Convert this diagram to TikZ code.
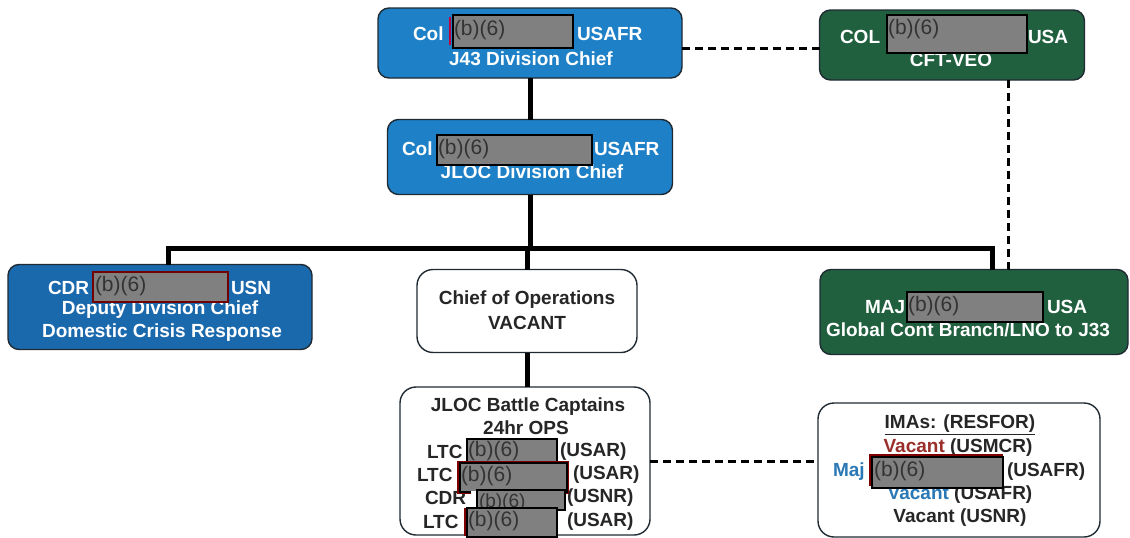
\documentclass[tikz,border=0pt]{standalone}
\usepackage{fontspec}
\setmainfont{Liberation Sans}
\definecolor{jblue}{HTML}{1E80C6}
\definecolor{dblue}{HTML}{1B69AD}
\definecolor{jgreen}{HTML}{21603F}
\definecolor{rgray}{HTML}{808080}
\definecolor{vred}{HTML}{9A2E2A}
\definecolor{vblue}{HTML}{2A78B5}
\definecolor{edge}{HTML}{1F2A33}
\begin{document}
\begin{tikzpicture}[x=1pt,y=-1pt,
  every node/.style={inner sep=0pt, outer sep=0pt},
  orgbox/.style={rectangle, rounded corners=11pt, draw=edge, line width=1.4pt},
  bluebox/.style={orgbox, fill=jblue},
  darkbox/.style={orgbox, fill=dblue},
  greenbox/.style={orgbox, fill=jgreen},
  whitebox/.style={orgbox, rounded corners=16pt, fill=white},
  wt/.style={font=\fontsize{19}{22}\selectfont\bfseries, text=white},
  bt/.style={font=\fontsize{19}{22}\selectfont\bfseries, text=black!85},
  redact/.style={rectangle, draw=black, line width=1.6pt, fill=rgray, anchor=north west},
  rtext/.style={font=\fontsize{21}{21}\selectfont, text=black!80, anchor=north west},
  trunk/.style={line width=5pt, black},
  dashline/.style={line width=3pt, black, dash pattern=on 8pt off 5pt}]
\useasboundingbox (0,0) rectangle (1130,538);

% ---------- boxes ----------
\node[bluebox, minimum width=304pt, minimum height=70pt] (j43) at (530,43) {};
\node[greenbox, minimum width=265pt, minimum height=70pt] (cft) at (952,45) {};
\node[bluebox, minimum width=285pt, minimum height=75pt] (jdc) at (530,157) {};
\node[darkbox, minimum width=304pt, minimum height=85pt] (cdr) at (160,307) {};
\node[whitebox, minimum width=220pt, minimum height=83pt] (coo) at (527,311) {};
\node[greenbox, minimum width=308pt, minimum height=85pt] (maj) at (974,312) {};
\node[whitebox, minimum width=250pt, minimum height=148pt] (bc) at (525,461) {};
\node[whitebox, minimum width=282pt, minimum height=134pt] (ima) at (959,470) {};

% ---------- connectors ----------
\coordinate (hl) at (168,248);
\coordinate (hr) at (992,248);
\coordinate (hm) at (528,248);
\coordinate (vd) at (1008,0);
\coordinate (dy) at (0,48);
\draw[trunk] (j43.south) -- (jdc.north);
\draw[trunk] (jdc.south) -- (jdc.south |- hm);
\draw[trunk] (hl |- cdr.north) -- (hl) -- (hr) -- (hr |- maj.north);
\draw[trunk] (coo.north) -- (coo.north |- hm);
\draw[trunk] (coo.south) -- (coo.south |- bc.north);
\draw[dashline] (j43.east |- dy) -- (cft.west |- dy);
\draw[dashline] (vd |- cft.south) -- (vd |- maj.north);
\draw[dashline] (bc.east) -- (bc.east -| ima.west);

% ---------- J43 ----------
\node[wt, anchor=west] (j43a) at (413,34) {Col};
\node[wt, anchor=west] (j43b) at (577,34) {USAFR};
\node[wt] (j43c) at (531,59) {J43 Division Chief};
\draw[line width=1.5pt, color=purple] (450,17) -- (450,45);
\node[redact, minimum width=120pt, minimum height=33pt] (r1) at (453,15) {};
\node[rtext] (r1t) at ([xshift=1pt,yshift=-5pt]r1.north west) {(b)(6)};

% ---------- CFT-VEO ----------
\node[wt, anchor=west] (cfta) at (840,37) {COL};
\node[wt, anchor=west] (cftb) at (1028,37) {USA};
\node[wt] (cftc) at (951,60) {CFT-VEO};
\node[redact, minimum width=140pt, minimum height=38pt] (r2) at (887,15) {};
\node[rtext] (r2t) at ([xshift=1pt,yshift=-4pt]r2.north west) {(b)(6)};

% ---------- JLOC Division Chief ----------
\node[wt, anchor=west] (jdca) at (402,149) {Col};
\node[wt, anchor=west] (jdcb) at (594,149) {USAFR};
\node[wt] (jdcc) at (532,172) {JLOC Division Chief};
\node[redact, minimum width=155pt, minimum height=30pt] (r3) at (437,135) {};
\node[rtext] (r3t) at ([xshift=1pt,yshift=-4pt]r3.north west) {(b)(6)};

% ---------- CDR ----------
\node[wt, anchor=west] (cdra) at (48,288) {CDR};
\node[wt, anchor=west] (cdrb) at (231,288) {USN};
\node[wt] (cdrc) at (160,310) {Deputy Division Chief};
\node[wt] (cdrd) at (162,333) {Domestic Crisis Response};
\node[redact, draw=black!55!red, minimum width=135pt, minimum height=30pt] (r4) at (93,272) {};
\node[rtext] (r4t) at ([xshift=2pt,yshift=-4pt]r4.north west) {(b)(6)};

% ---------- Chief of Operations ----------
\node[bt] (cooa) at (527,300) {Chief of Operations};
\node[bt] (coob) at (527,323) {VACANT};

% ---------- MAJ ----------
\node[wt, anchor=west] (maja) at (865,307) {MAJ};
\node[wt, anchor=west] (majb) at (1047,307) {USA};
\node[wt] (majc) at (968,330) {Global Cont Branch/LNO to J33};
\node[redact, minimum width=136pt, minimum height=30pt] (r5) at (907,292) {};
\node[rtext] (r5t) at ([xshift=1pt,yshift=-4pt]r5.north west) {(b)(6)};

% ---------- Battle Captains ----------
\node[bt] (bca) at (528,407) {JLOC Battle Captains};
\node[bt] (bcb) at (526,428) {24hr OPS};
\node[bt, anchor=west] (bc1a) at (427,452) {LTC};
\node[bt, anchor=west] (bc1b) at (560,452) {(USAR)};
\node[bt, anchor=west] (bc2a) at (417,475) {LTC};
\node[bt, anchor=west] (bc2b) at (573,475) {(USAR)};
\node[bt, anchor=west] (bc3a) at (425,498) {CDR};
\node[bt, anchor=west] (bc3b) at (567,498) {(USNR)};
\node[bt, anchor=west] (bc4a) at (423,522) {LTC};
\node[bt, anchor=west] (bc4b) at (567,522) {(USAR)};
\node[redact, minimum width=90pt, minimum height=25pt] (r6) at (467,439) {};
\node[rtext] (r6t) at ([xshift=1pt,yshift=-2pt]r6.north west) {(b)(6)};
\fill[color=black!50!red] (457,461) rectangle (569,494);
\node[redact, minimum width=107pt, minimum height=29pt] (r7) at (460,463) {};
\node[rtext] (r7t) at ([xshift=1pt,yshift=-3pt]r7.north west) {(b)(6)};
\fill[white] (471,491) rectangle (477,509);
\node[redact, minimum width=88pt, minimum height=20pt] (r8) at (477,490) {};
\begin{scope}
\clip (r8.north west) rectangle (r8.south east);
\node[rtext, font=\fontsize{19}{19}\selectfont] (r8t) at ([xshift=2pt,yshift=-4pt]r8.north west) {(b)(6)};
\end{scope}
\draw[line width=1.5pt, color=black!50!red] (465,508) -- (465,536);
\node[redact, minimum width=90pt, minimum height=29pt] (r9) at (467,508) {};
\node[rtext] (r9t) at ([xshift=1pt,yshift=-3pt]r9.north west) {(b)(6)};

% ---------- IMAs ----------
\node[bt] (imaa) at (960,425) {\underline{IMAs: (RESFOR)}};
\node[bt] (imab) at (958,448) {\textcolor{vred}{\underline{Vacant}} (USMCR)};
\node[bt, anchor=west, text=vblue] (imac) at (833,472) {Maj};
\node[bt, anchor=west] (imad) at (1007,472) {(USAFR)};
\node[bt] (imae) at (960,495) {\textcolor{vblue}{Vacant} (USAFR)};
\node[bt] (imaf) at (960,518) {Vacant (USNR)};
\fill[color=black!50!red] (869,454) rectangle (1003,486);
\node[redact, minimum width=131pt, minimum height=31pt] (r10) at (872,457) {};
\node[rtext] (r10t) at ([xshift=2pt,yshift=-4pt]r10.north west) {(b)(6)};
\end{tikzpicture}
\end{document}
